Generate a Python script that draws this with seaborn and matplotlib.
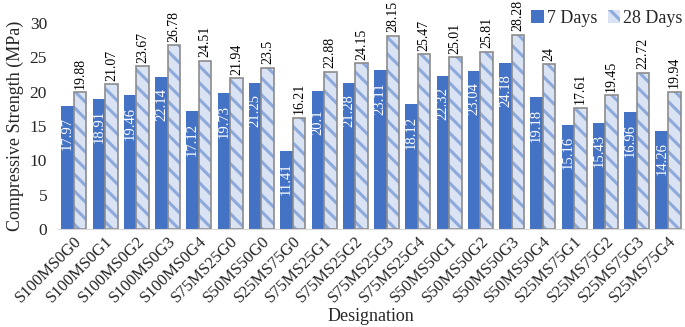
import pandas as pd
import numpy as np
import matplotlib
matplotlib.use("Agg")
import matplotlib.pyplot as plt
import seaborn as sns
from matplotlib.patches import Patch

# datos
designaciones = ['S100MS0G0', 'S100MS0G1', 'S100MS0G2', 'S100MS0G3', 'S100MS0G4',
                 'S75MS25G0', 'S50MS50G0', 'S25MS75G0', 'S75MS25G1', 'S75MS25G2',
                 'S75MS25G3', 'S75MS25G4', 'S50MS50G1', 'S50MS50G2', 'S50MS50G3',
                 'S50MS50G4', 'S25MS75G1', 'S25MS75G2', 'S25MS75G3', 'S25MS75G4']
dias_7 = [17.97, 18.91, 19.46, 22.14, 17.12, 19.73, 21.25, 11.41, 20.1, 21.28,
          23.11, 18.12, 22.32, 23.04, 24.18, 19.18, 15.16, 15.43, 16.96, 14.26]
dias_28 = [19.88, 21.07, 23.67, 26.78, 24.51, 21.94, 23.5, 16.21, 22.88, 24.15,
           28.15, 25.47, 25.01, 25.81, 28.28, 24, 17.61, 19.45, 22.72, 19.94]
series = ['7 Days', '28 Days']

df = pd.DataFrame({
    'Designation': designaciones * 2,
    'Edad': [series[0]] * len(dias_7) + [series[1]] * len(dias_28),
    'Resistencia': dias_7 + dias_28,
})

sns.set_style("white")
plt.rcParams['font.family'] = ['Liberation Serif', 'DejaVu Serif']
plt.rcParams['hatch.linewidth'] = 2.2

fig = plt.figure(figsize=(6.85, 3.27), dpi=100)
ax = fig.add_axes([0.085, 0.30, 0.913, 0.63])

sns.barplot(data=df, x='Designation', y='Resistencia', hue='Edad',
            palette=['#4472C4', '#DAE3F3'], width=0.8, gap=0,
            saturation=1, ax=ax, legend=False)

azul, claro = ax.containers[0], ax.containers[1]
for p in azul:
    p.set_edgecolor('none')
for p in claro:
    p.set_edgecolor('#8EA9DB')
    p.set_hatch('\\\\')
    p.set_linewidth(0)
    # contorno gris encima
    r = plt.Rectangle(p.get_xy(), p.get_width(), p.get_height(), fill=False,
                      edgecolor='#8C8C8C', linewidth=1.2, zorder=p.get_zorder() + 0.1)
    ax.add_patch(r)

ax.bar_label(azul, labels=[f'{v:g}' for v in dias_7], label_type='edge',
             padding=-32, rotation=90, color='white', fontsize=10.5)
ax.bar_label(claro, labels=[f'{v:g}' for v in dias_28], label_type='edge',
             padding=2.5, rotation=90, color='black', fontsize=10, clip_on=False)

ax.set_ylim(0, 30)
ax.set_xlim(-0.5, len(designaciones) - 0.5)
ax.set_yticks(range(0, 31, 5))
ax.tick_params(axis='y', labelsize=12.5, length=0, pad=8)
ax.set_xticks(range(len(designaciones)))
ax.set_xticklabels(designaciones, rotation=45, ha='right', rotation_mode='anchor', fontsize=12)
ax.tick_params(axis='x', length=0, pad=3)
# marcas entre categorias
ax.set_xticks(np.arange(-0.5, len(designaciones), 1), minor=True)
ax.tick_params(axis='x', which='minor', length=4, color='#D9D9D9', width=1)

for lado in ['top', 'right', 'left']:
    ax.spines[lado].set_visible(False)
ax.spines['bottom'].set_color('#D9D9D9')

ax.set_xlabel('Designation', fontsize=13)
ax.xaxis.set_label_coords(0.5, -0.385)
ax.set_ylabel('Compressive Strength (MPa)', fontsize=13, labelpad=4)

h = [Patch(facecolor='#4472C4', edgecolor='none'),
     Patch(facecolor='#DAE3F3', edgecolor='#8EA9DB', hatch='\\\\', linewidth=0)]
fig.legend(h, series, loc='upper right', bbox_to_anchor=(1.02, 1.02), ncol=2, frameon=False,
           fontsize=13, handlelength=0.7, handleheight=0.7, handletextpad=0.15, columnspacing=0.6)

fig.savefig('out.png', dpi=100)
